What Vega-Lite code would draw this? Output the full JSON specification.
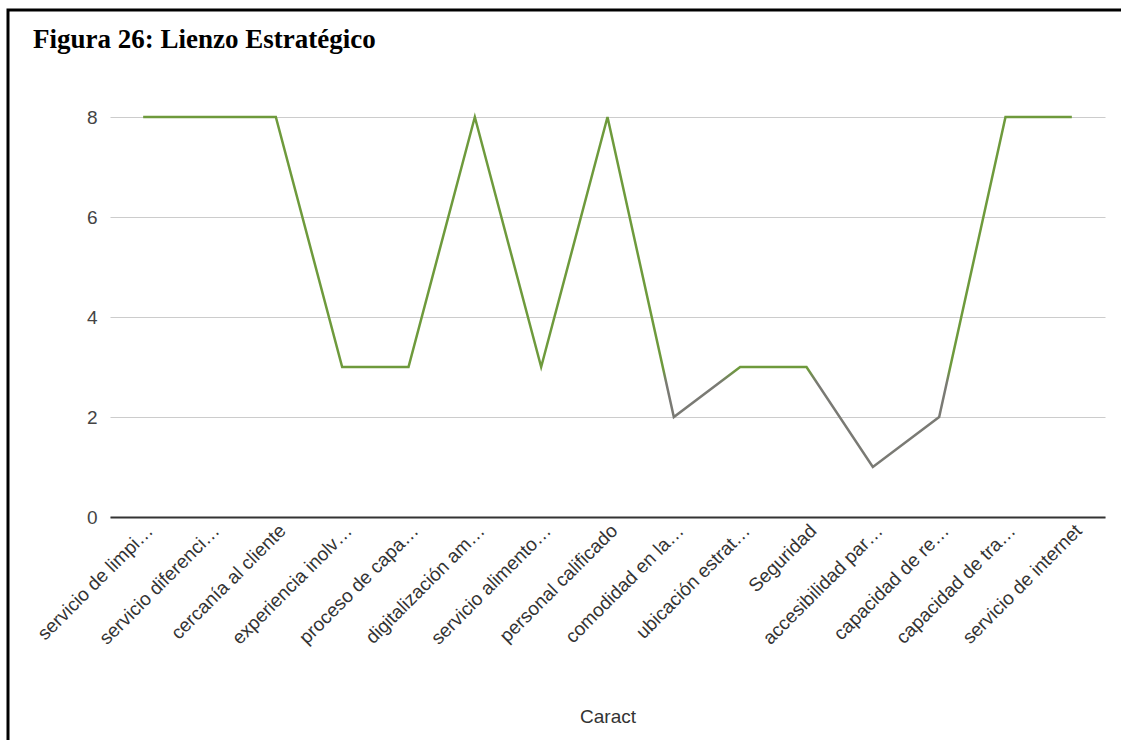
{
  "$schema": "https://vega.github.io/schema/vega-lite/v6.json",
  "width": 1115,
  "height": 730,
  "autosize": "none",
  "padding": {"left": 8, "top": 10, "right": 0, "bottom": 0},
  "background": "white",
  "config": {
    "view": {
      "stroke": "#000000",
      "strokeWidth": 3,
      "strokeDash": [1113, 1847, 730]
    }
  },
  "title": {
    "text": "Figura 26: Lienzo Estratégico",
    "anchor": "start",
    "frame": "group",
    "baseline": "alphabetic",
    "offset": 0,
    "dx": 25,
    "dy": 65,
    "font": "Liberation Serif",
    "fontSize": 27,
    "fontWeight": "bold",
    "color": "#000000"
  },
  "data": {
    "values": [
      {"caract": "servicio de limpi…", "valor": 8},
      {"caract": "servicio diferenci…", "valor": 8},
      {"caract": "cercanía al cliente", "valor": 8},
      {"caract": "experiencia inolv…", "valor": 3},
      {"caract": "proceso de capa…", "valor": 3},
      {"caract": "digitalización am…", "valor": 8},
      {"caract": "servicio alimento…", "valor": 3},
      {"caract": "personal calificado", "valor": 8},
      {"caract": "comodidad en la…", "valor": 2},
      {"caract": "ubicación estrat…", "valor": 3},
      {"caract": "Seguridad", "valor": 3},
      {"caract": "accesibilidad par…", "valor": 1},
      {"caract": "capacidad de re…", "valor": 2},
      {"caract": "capacidad de tra…", "valor": 8},
      {"caract": "servicio de internet", "valor": 8}
    ]
  },
  "mark": {
    "type": "line",
    "strokeWidth": 2.5,
    "color": {
      "gradient": "linear",
      "x1": 0, "y1": 0, "x2": 0, "y2": 1,
      "stops": [
        {"offset": 0, "color": "#6e9a3c"},
        {"offset": 0.72, "color": "#6e9a3c"},
        {"offset": 0.76, "color": "#7a7a74"},
        {"offset": 1, "color": "#7a7a74"}
      ]
    }
  },
  "encoding": {
    "x": {
      "field": "caract",
      "type": "nominal",
      "sort": null,
      "title": "Caract",
      "scale": {"type": "point", "padding": 0.5, "range": [102, 1097]},
      "axis": {
        "orient": "bottom",
        "offset": -223,
        "labelAngle": -45,
        "labelFont": "Liberation Sans",
        "labelFontSize": 19,
        "labelColor": "#333333",
        "labelLimit": 400,
        "labelPadding": 4,
        "ticks": false,
        "grid": false,
        "domain": true,
        "domainColor": "#333333",
        "domainWidth": 2,
        "titleFont": "Liberation Sans",
        "titleFontSize": 19,
        "titleFontWeight": "normal",
        "titleColor": "#333333",
        "titleY": 205,
        "titleBaseline": "alphabetic"
      }
    },
    "y": {
      "field": "valor",
      "type": "quantitative",
      "title": null,
      "scale": {"domain": [0, 8], "nice": false, "range": [507, 107]},
      "axis": {
        "orient": "left",
        "offset": -102,
        "values": [0, 2, 4, 6, 8],
        "labelFont": "Liberation Sans",
        "labelFontSize": 19,
        "labelColor": "#444444",
        "labelPadding": 13,
        "ticks": false,
        "domain": false,
        "grid": true,
        "gridColor": "#cccccc",
        "gridWidth": 1.2
      }
    }
  }
}
